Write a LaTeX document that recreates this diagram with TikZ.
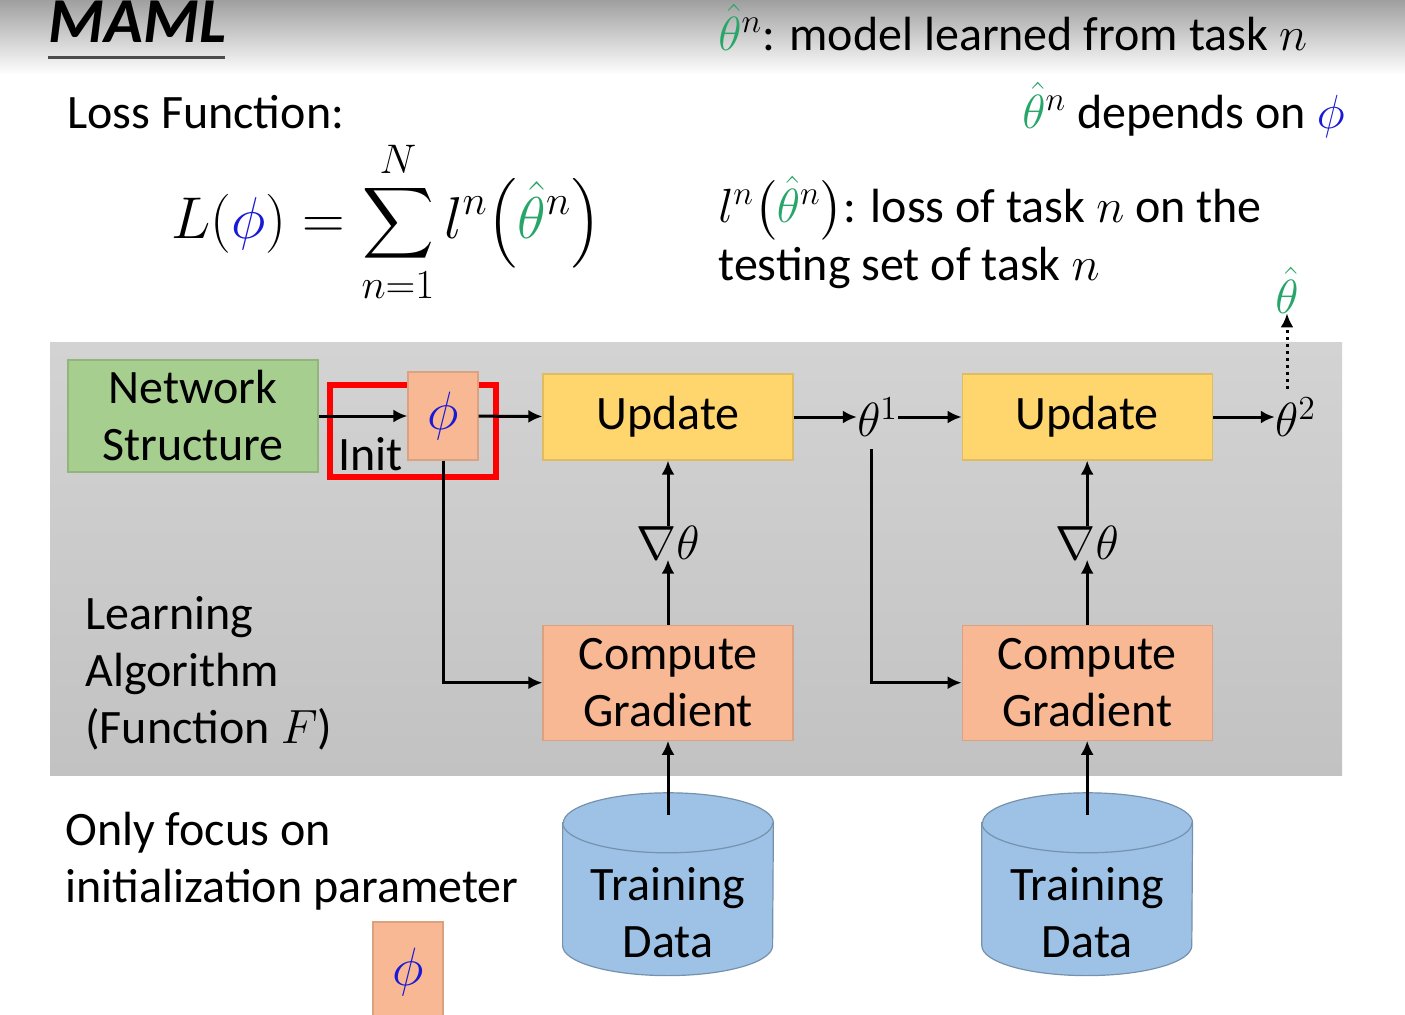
\RequirePackage{fix-cm}
\documentclass[tikz,border=0pt]{standalone}
\usepackage{amsmath}
\usepackage{fontspec}
\setmainfont{Carlito}
\usetikzlibrary{arrows.meta,calc,positioning}

\definecolor{phiblue}{RGB}{25,25,215}
\definecolor{hatgreen}{RGB}{40,165,105}
\definecolor{netgreen}{RGB}{166,206,142}
\definecolor{updyellow}{RGB}{255,214,110}
\definecolor{gradorange}{RGB}{249,184,148}
\definecolor{dbblue}{RGB}{157,194,230}
\definecolor{panelgray}{RGB}{200,200,200}

\newcommand{\bphi}{{\color{phiblue}\phi}}
\newcommand{\hth}{{\color{hatgreen}\hat{\theta}}}
% cylinder drawn round an invisible node
\newcommand{\dbcan}[1]{%
	\path[fill=dbblue, draw=dbblue!75!black, line width=0.6pt]
		([yshift=-15pt]#1.north west) -- ([yshift=15pt]#1.south west)
		arc (180:360:52.5pt and 15pt) -- ([yshift=-15pt]#1.north east)
		arc (0:180:52.5pt and 15pt) -- cycle;
	\draw[dbblue!75!black, line width=0.6pt] ([yshift=-15pt]#1.north west) arc (180:360:52.5pt and 15pt);}

\begin{document}
\begin{tikzpicture}[
		x=0.5pt, y=-0.5pt,
		node distance=4em,
		txt/.style={inner sep=0pt, font=\fontsize{24}{28.5}\selectfont},
		block/.style={draw=#1!88!black, fill=#1, line width=0.6pt, align=center, minimum width=125pt, font=\fontsize{24}{28.5}\selectfont},
		db/.style={inner sep=0pt, minimum width=105pt, minimum height=91pt},
		arr/.style={-{Latex[length=7pt,width=6.5pt]}, line width=1.5pt},
	]
		\useasboundingbox (0,0) rectangle (1405,1014);
		\fill[white] (0,0) rectangle (1405,1014);
		\fill[top color=gray!75, bottom color=white] (0,0) rectangle (1405,75);
		
		% heading and formulas
		\node (title) [anchor=base west, inner sep=0pt, font=\fontsize{32}{36}\selectfont\bfseries\itshape] at (48,42) {MAML};
		\draw[line width=1.5pt, gray!60!black] (48,57) -- (225,57);
		\node (lossfn) [txt, anchor=base west] at (67,128) {Loss Function:};
		\node (eq) [font=\fontsize{29.5}{35}\selectfont] at (386,222) {$\displaystyle L(\bphi) = \sum_{n=1}^{N} l^{n}\bigl(\hth^{n}\bigr)$};
		\node (note1) [txt, anchor=base west] at (718,50) {$\hth^{n}$: model learned from task $n$};
		\node (note2) [txt, anchor=base east] at (1345,128) {$\hth^{n}$ depends on $\bphi$};
		\node (note3) [txt, anchor=base west] at (718,222) {$l^{n}\bigl(\hth^{n}\bigr)$: loss of task $n$ on the};
		\node (note4) [txt, anchor=base west] at (718,280) {testing set of task $n$};
		
		% learning algorithm panel
		\fill[top color=panelgray!80!white, bottom color=panelgray!97!black] (50,342) rectangle (1342,775);
		
		\node (netw) [block=netgreen, minimum height=56pt] at (193,416) {Network\\Structure};
		\node (initbox) [draw=red, line width=3pt, minimum width=83pt, minimum height=46pt] at (413,431) {};
		\node (phi) [block=gradorange, minimum width=35pt, minimum height=44pt, font=\fontsize{27}{30}\selectfont] at (443,416) {$\bphi$};
		\node (init) [txt, anchor=base west] at (338,470) {Init};
		
		\node (upd1) [block=updyellow, minimum height=43pt] at (668,417) {Update};
		\node (upd2) [block=updyellow, minimum height=43pt, right=84pt of upd1] {Update};
		\node (cg1) [block=gradorange, minimum height=57.5pt, below=82pt of upd1] {Compute\\Gradient};
		\node (cg2) [block=gradorange, minimum height=57.5pt, below=82pt of upd2] {Compute\\Gradient};
		\node (th1) [txt] at ($(upd1.east)!0.5!(upd2.west)$) {$\theta^{1}$};
		\node (th2) [txt, right=31pt of upd2] {$\theta^{2}$};
		\node (thhat) [txt] at (1287,290) {$\hth$};
		\node (grad1) [txt] at ($(upd1.south)!0.5!(cg1.north)$) {$\nabla\theta$};
		\node (grad2) [txt] at ($(upd2.south)!0.5!(cg2.north)$) {$\nabla\theta$};
		
		\node (learn) [txt, align=left, anchor=north west] at (85,596) {Learning\\Algorithm\\(Function $F$)};
		
		% training data
		\node (data1) [db, below=26pt of cg1] {};
		\node (data2) [db, below=26pt of cg2] {};
		\dbcan{data1}
		\dbcan{data2}
		\node (data1txt) [txt, align=center] at ([yshift=-14pt]data1.center) {Training\\Data};
		\node (data2txt) [txt, align=center] at ([yshift=-14pt]data2.center) {Training\\Data};
		
		\node (focus) [txt, align=left, anchor=north west] at (65,812) {Only focus on\\initialization parameter};
		\node (phismall) [block=gradorange, minimum width=35pt, minimum height=50pt, font=\fontsize{27}{30}\selectfont] at (408,972) {$\bphi$};
		
		% connectors
		\draw[arr] (netw) -- (phi);
		\draw[arr] (phi) -- (upd1);
		\draw[arr] (upd1) -- (th1);
		\draw[arr] (th1) -- (upd2);
		\draw[arr] (upd2) -- (th2);
		\draw[arr, dotted, shorten <=4pt] (th2.north -| thhat) -- (thhat.south);
		\draw[arr] (cg1) -- (grad1);
		\draw[arr] (grad1) -- (upd1);
		\draw[arr] (cg2) -- (grad2);
		\draw[arr] (grad2) -- (upd2);
		\draw[arr] (phi.south) |- (cg1.west);
		\draw[arr, shorten <=6pt] ([xshift=-3pt]th1.south) |- (cg2.west);
		\draw[arr] ([yshift=-11pt]data1.north) -- (cg1.south);
		\draw[arr] ([yshift=-11pt]data2.north) -- (cg2.south);
	\end{tikzpicture}
\end{document}
